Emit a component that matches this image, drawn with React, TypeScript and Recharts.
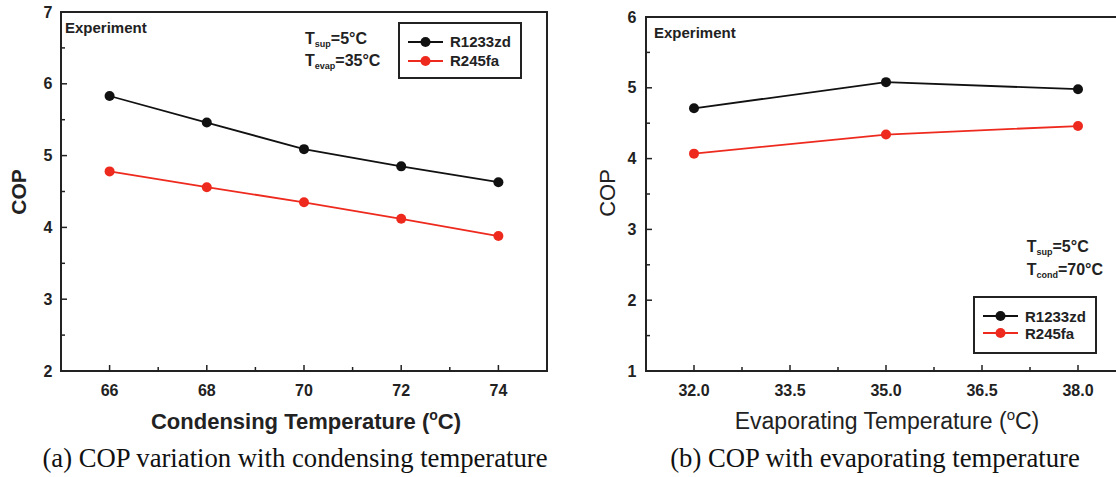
import { LineChart, Line, XAxis, YAxis, ReferenceArea, Legend } from "recharts";

// (a) COP vs condensing temperature
const condTemps = [66, 68, 70, 72, 74];
const copR1233zdCond = [5.83, 5.46, 5.09, 4.85, 4.63];
const copR245faCond = [4.78, 4.56, 4.35, 4.12, 3.88];

// (b) COP vs evaporating temperature
const evapTemps = [32, 35, 38];
const copR1233zdEvap = [4.71, 5.08, 4.98];
const copR245faEvap = [4.07, 4.34, 4.46];

const condDomain = [65, 75];
const condTicks = [66, 67, 68, 69, 70, 71, 72, 73, 74];
const condMajor = [66, 68, 70, 72, 74];
const copDomainA = [2, 7];
const copTicksA = [2, 2.5, 3, 3.5, 4, 4.5, 5, 5.5, 6, 6.5, 7];

const evapDomain = [31.25, 38.75];
const evapTicks = [32, 32.75, 33.5, 34.25, 35, 35.75, 36.5, 37.25, 38];
const evapMajor = [32, 33.5, 35, 36.5, 38];
const copDomainB = [1, 6];
const copTicksB = [1, 1.5, 2, 2.5, 3, 3.5, 4, 4.5, 5, 5.5, 6];

const seriesNames = ["R1233zd", "R245fa"];
const seriesColors = ["#111111", "#ee2a1e"];

const SANS = "'Liberation Sans', Arial, sans-serif";
const SERIF = "'Liberation Serif', 'Times New Roman', serif";
const INK = "#222";

const condData = condTemps.map((t, i) => ({ t, a: copR1233zdCond[i], b: copR245faCond[i] }));
const evapData = evapTemps.map((t, i) => ({ t, a: copR1233zdEvap[i], b: copR245faEvap[i] }));

function XTick(props: any) {
  const { x, y, payload, majors, digits } = props;
  const major = majors.includes(payload.value);
  return (
    <g>
      <line x1={x} x2={x} y1={y} y2={y - (major ? 6 : 4)} stroke={INK} strokeWidth={1.5} />
      {major && (
        <text x={x} y={y + 24.5} textAnchor="middle" fontFamily={SANS} fontWeight="bold" fontSize={16} fill={INK}>
          {payload.value.toFixed(digits)}
        </text>
      )}
    </g>
  );
}

function YTick(props: any) {
  const { x, y, payload, gap } = props;
  const major = Number.isInteger(payload.value);
  return (
    <g>
      <line x1={x} x2={x + (major ? 6 : 4)} y1={y} y2={y} stroke={INK} strokeWidth={1.5} />
      {major && (
        <text x={x - gap} y={y + 5.6} textAnchor="end" fontFamily={SANS} fontWeight="bold" fontSize={16} fill={INK}>
          {payload.value}
        </text>
      )}
    </g>
  );
}

function LegendBox(props: any) {
  const { payload, rowH, padTop, height } = props;
  return (
    <div style={{ boxSizing: "border-box", width: 124, height, border: `2px solid ${INK}`, background: "#fff", paddingTop: padTop, paddingLeft: 8 }}>
      {(payload || []).map((p: any) => (
        <div key={p.value} style={{ display: "flex", alignItems: "center", height: rowH }}>
          <svg width={35} height={12} style={{ display: "block" }}>
            <line x1={0} y1={6} x2={35} y2={6} stroke={p.color} strokeWidth={1.8} />
            <circle cx={17.5} cy={6} r={5} fill={p.color} />
          </svg>
          <span style={{ marginLeft: 7, fontFamily: SANS, fontWeight: "bold", fontSize: 15, color: INK, lineHeight: 1 }}>{p.value}</span>
        </div>
      ))}
    </div>
  );
}

function Panel(props: any) {
  const { data, xDomain, xTicks, xMajor, digits, yDomain, yTicks, yWidth, top, right, gap, legend } = props;
  return (
    <LineChart width={560} height={400} data={data} margin={{ top, right, bottom: 0, left: 0 }}>
      <XAxis
        dataKey="t"
        type="number"
        domain={xDomain}
        ticks={xTicks}
        interval={0}
        axisLine={false}
        tickLine={false}
        tickSize={0}
        tickMargin={0}
        height={29}
        tick={(p: any) => <XTick {...p} majors={xMajor} digits={digits} />}
      />
      <YAxis
        type="number"
        domain={yDomain}
        ticks={yTicks}
        interval={0}
        axisLine={false}
        tickLine={false}
        tickSize={0}
        tickMargin={0}
        width={yWidth}
        tick={(p: any) => <YTick {...p} gap={gap} />}
      />
      <ReferenceArea x1={xDomain[0]} x2={xDomain[1]} y1={yDomain[0]} y2={yDomain[1]} fill="none" stroke={INK} strokeWidth={2} ifOverflow="visible" />
      <Line dataKey="a" name={seriesNames[0]} stroke={seriesColors[0]} strokeWidth={1.8}
        dot={{ r: 5, fill: seriesColors[0], stroke: seriesColors[0], strokeWidth: 0 }} activeDot={false} isAnimationActive={false} />
      <Line dataKey="b" name={seriesNames[1]} stroke={seriesColors[1]} strokeWidth={1.8}
        dot={{ r: 5, fill: seriesColors[1], stroke: seriesColors[1], strokeWidth: 0 }} activeDot={false} isAnimationActive={false} />
      <Legend
        layout="horizontal"
        verticalAlign="middle"
        align="center"
        wrapperStyle={{ left: legend.left, top: legend.top, width: 124, height: legend.height }}
        content={(p: any) => <LegendBox {...p} rowH={legend.rowH} padTop={legend.padTop} height={legend.height} />}
      />
    </LineChart>
  );
}

export default function App() {
  return (
    <div style={{ position: "absolute", left: 0, top: 0, width: 1116, height: 477, overflow: "hidden", background: "#fff" }}>
      <div style={{ position: "absolute", left: 0, top: 0 }}>
        <Panel data={condData} xDomain={condDomain} xTicks={condTicks} xMajor={condMajor} digits={0}
          yDomain={copDomainA} yTicks={copTicksA} yWidth={61} top={12} right={13} gap={8.5}
          legend={{ left: 398, top: 22, height: 57, rowH: 19, padTop: 8 }} />
      </div>
      <div style={{ position: "absolute", left: 580, top: 0 }}>
        <Panel data={evapData} xDomain={evapDomain} xTicks={evapTicks} xMajor={evapMajor} digits={1}
          yDomain={copDomainB} yTicks={copTicksB} yWidth={66} top={17} right={14} gap={9.5}
          legend={{ left: 393, top: 296, height: 58, rowH: 17, padTop: 9.5 }} />
      </div>
      <svg width={1116} height={477} style={{ position: "absolute", left: 0, top: 0, pointerEvents: "none" }}>
        <g fontFamily={SANS} fill={INK} fontWeight="bold">
          <text x={65} y={33} fontSize={15}>Experiment</text>
          <text x={654} y={38} fontSize={15}>Experiment</text>
          <text x={305} y={43.5} fontSize={16}>T<tspan fontSize={9} dy={3}>sup</tspan><tspan dy={-3}>=5°C</tspan></text>
          <text x={305} y={66} fontSize={16}>T<tspan fontSize={9} dy={3}>evap</tspan><tspan dy={-3}>=35°C</tspan></text>
          <text x={1026.7} y={251.7} fontSize={16}>T<tspan fontSize={9} dy={3}>sup</tspan><tspan dy={-3}>=5°C</tspan></text>
          <text x={1026.7} y={275} fontSize={16}>T<tspan fontSize={9} dy={3}>cond</tspan><tspan dy={-3}>=70°C</tspan></text>
          <text transform="translate(25.5,192) rotate(-90)" textAnchor="middle" fontSize={21}>COP</text>
          <text x={306} y={429} textAnchor="middle" fontSize={22}>
            Condensing Temperature (<tspan fontSize={14} dy={-9}>o</tspan><tspan dy={9}>C)</tspan>
          </text>
        </g>
        <g fontFamily={SANS} fill={INK}>
          <text transform="translate(614.5,193) rotate(-90)" textAnchor="middle" fontSize={22}>COP</text>
          <text x={887} y={429} textAnchor="middle" fontSize={23}>
            Evaporating Temperature (<tspan fontSize={15} dy={-9}>o</tspan><tspan dy={9}>C)</tspan>
          </text>
        </g>
        <g fontFamily={SERIF} fill="#111" fontSize={26.7}>
          <text x={295} y={467} textAnchor="middle">(a) COP variation with condensing temperature</text>
          <text x={875} y={467} textAnchor="middle">(b) COP with evaporating temperature</text>
        </g>
      </svg>
    </div>
  );
}
